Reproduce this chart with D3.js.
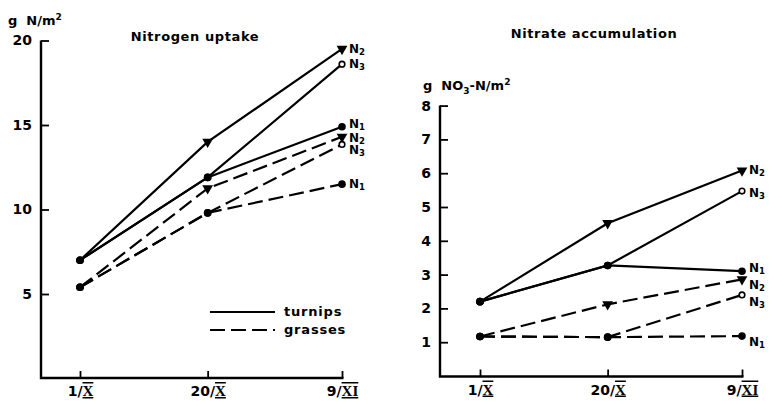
<!DOCTYPE html>
<html>
<head>
<meta charset="utf-8">
<script src="https://cdn.jsdelivr.net/npm/d3@7"></script>
<style>
  body { margin: 0; background: #fff; }
  svg text { font-family: 'DejaVu Sans', sans-serif; fill: #000; white-space: pre; }
</style>
</head>
<body>
<div id="chart"></div>
<script>
// sampling dates (day / roman month)
const dateLabels = [['1/', 'X'], ['20/', 'X'], ['9/', 'XI']];
const dates = [new Date(1970, 9, 1), new Date(1970, 9, 20), new Date(1970, 10, 9)];
const levels = ['N1', 'N2', 'N3'];

// nitrogen uptake, g N/m2  (rows N1, N2, N3)
const uptakeTurnips = [[7.0, 11.9, 14.9], [7.0, 14.0, 19.5], [7.0, 11.9, 18.6]];
const uptakeGrasses = [[5.4, 9.8, 11.5], [5.4, 11.25, 14.3], [5.4, 9.8, 13.85]];
const uptakeTicks = [5, 10, 15, 20];

// nitrate accumulation, g NO3-N/m2
const nitrateTurnips = [[2.2, 3.27, 3.1], [2.2, 4.52, 6.08], [2.2, 3.27, 5.47]];
const nitrateGrasses = [[1.17, 1.15, 1.18], [1.17, 2.12, 2.86], [1.17, 1.15, 2.4]];
const nitrateTicks = [1, 2, 3, 4, 5, 6, 7, 8];

const width = 770, height = 401;
const svg = d3.select('#chart').append('svg')
    .attr('width', width)
    .attr('height', height);

const dash = '15,6';

function drawPanel(cfg) {
    const g = svg.append('g');
    const x = d3.scaleTime().domain([dates[0], dates[2]]).range(cfg.xRange);
    const y = d3.scaleLinear().domain(cfg.yDomain).range(cfg.yRange);

    // axes
    const yAxis = d3.axisLeft(y).tickValues(cfg.ticks).tickSizeInner(-8).tickSizeOuter(0).tickPadding(9);
    const yG = g.append('g').attr('transform', `translate(${cfg.axisX},0)`).call(yAxis);
    yG.select('.domain').remove();
    yG.selectAll('line').attr('stroke', '#000').attr('stroke-width', 1.8);
    yG.selectAll('text').style('font-size', '14px').style('font-weight', 'bold').attr('font-family', null);

    const xAxis = d3.axisBottom(x).tickValues(dates).tickSizeInner(-7).tickSizeOuter(0).tickFormat(() => '');
    const xG = g.append('g').attr('transform', `translate(0,${cfg.axisY})`).call(xAxis);
    xG.select('.domain').remove();
    xG.selectAll('line').attr('stroke', '#000').attr('stroke-width', 1.8);
    xG.selectAll('.tick').append('text')
        .attr('y', 18)
        .attr('text-anchor', 'middle')
        .style('font-size', '14px')
        .style('font-weight', 'bold')
        .each(function (d, i) {
            const t = d3.select(this);
            t.append('tspan').text(dateLabels[i][0]);
            t.append('tspan').text(dateLabels[i][1])
                .style('font-family', 'Liberation Serif')
                .style('font-size', '15px')
                .style('text-decoration', 'underline overline');
        });

    g.append('path')
        .attr('d', `M${cfg.axisX},${y(cfg.ticks[cfg.ticks.length - 1])}V${cfg.axisY}H${x(dates[2]) + 1.5}`)
        .attr('fill', 'none')
        .attr('stroke', '#000')
        .attr('stroke-width', 2.4);

    // lines
    const line = d3.line().x((d, i) => x(dates[i])).y(d => y(d));
    [[cfg.turnips, null], [cfg.grasses, dash]].forEach(([rows, da]) => {
        rows.forEach(vals => {
            g.append('path')
                .datum(vals)
                .attr('d', line)
                .attr('fill', 'none')
                .attr('stroke', '#000')
                .attr('stroke-width', 2.2)
                .attr('stroke-dasharray', da);
        });
    });

    // markers + end labels
    const tri = d3.symbol().type(d3.symbolTriangle).size(50);
    [cfg.turnips, cfg.grasses].forEach((rows, k) => {
        rows.forEach((vals, j) => {
            vals.forEach((v, i) => {
                const px = x(dates[i]), py = y(v);
                if (j === 1 && i > 0) {
                    g.append('path').attr('d', tri)
                        .attr('transform', `translate(${px},${py}) rotate(180)`)
                        .attr('fill', '#000');
                } else if (j === 2 && i === 2) {
                    g.append('circle').attr('cx', px).attr('cy', py).attr('r', 2.8)
                        .attr('fill', '#fff').attr('stroke', '#000').attr('stroke-width', 1.6);
                } else {
                    g.append('circle').attr('cx', px).attr('cy', py).attr('r', 3.8)
                        .attr('fill', '#000');
                }
            });
            const t = g.append('text')
                .attr('x', x(dates[2]) + 7)
                .attr('y', y(vals[2]) + cfg.labelDy[k][j] + 4)
                .style('font-size', '12px')
                .style('font-weight', 'bold');
            t.append('tspan').text('N');
            t.append('tspan').attr('dy', 2).style('font-size', '8.5px').text(levels[j].slice(1));
        });
    });
    return { g, x, y };
}

// left panel
drawPanel({
    xRange: [80, 342], axisX: 41, axisY: 378,
    yDomain: [0, 20], yRange: [378.5, 40.5], ticks: uptakeTicks,
    turnips: uptakeTurnips, grasses: uptakeGrasses,
    labelDy: [[-3, 0, 0], [0, 1, 6]]
});

// right panel
drawPanel({
    xRange: [480, 742], axisX: 440, axisY: 376.5,
    yDomain: [0, 8], yRange: [376, 105.6], ticks: nitrateTicks,
    turnips: nitrateTurnips, grasses: nitrateGrasses,
    labelDy: [[-3, 0, 2], [6, 6, 7]]
});

// titles
svg.append('text').attr('x', 195).attr('y', 41).attr('text-anchor', 'middle')
    .style('font-size', '13px').style('font-weight', 'bold').style('letter-spacing', '0.6px').text('Nitrogen uptake');
svg.append('text').attr('x', 594).attr('y', 38).attr('text-anchor', 'middle')
    .style('font-size', '13px').style('font-weight', 'bold').style('letter-spacing', '0.6px').text('Nitrate accumulation');

// unit labels
const u1 = svg.append('text').attr('x', 8).attr('y', 25).style('font-size', '13px').style('font-weight', 'bold');
u1.append('tspan').text('g  N/m');
u1.append('tspan').attr('dy', -5).style('font-size', '9px').text('2');

const u2 = svg.append('text').attr('x', 423).attr('y', 90).style('font-size', '13px').style('font-weight', 'bold');
u2.append('tspan').text('g  NO');
u2.append('tspan').attr('dy', 4).style('font-size', '9px').text('3');
u2.append('tspan').attr('dy', -4).text('-N/m');
u2.append('tspan').attr('dy', -5).style('font-size', '9px').text('2');

// legend
const legend = svg.append('g');
[['turnips', null], ['grasses', dash]].forEach(([name, da], i) => {
    const ly = 312 + i * 18;
    legend.append('line').attr('x1', 210).attr('x2', 275).attr('y1', ly).attr('y2', ly)
        .attr('stroke', '#000').attr('stroke-width', 2.2).attr('stroke-dasharray', da);
    legend.append('text').attr('x', 284).attr('y', ly + 4)
        .style('font-size', '13px').style('font-weight', 'bold').style('letter-spacing', '0.8px').text(name);
});
</script>
</body>
</html>
